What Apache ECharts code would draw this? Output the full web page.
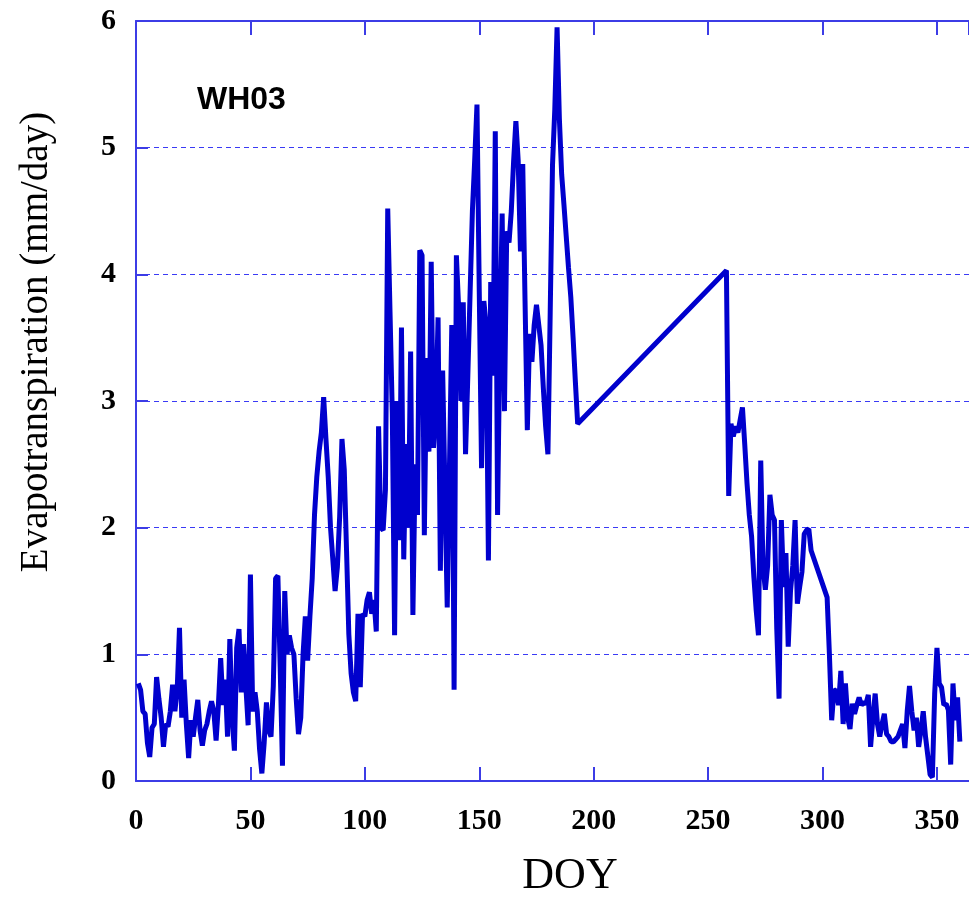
<!DOCTYPE html>
<html>
<head>
<meta charset="utf-8">
<script src="https://cdn.jsdelivr.net/npm/echarts@6/dist/echarts.min.js"></script>
<style>html,body{margin:0;padding:0;background:#fff;}#c{width:969px;height:899px;}</style>
</head>
<body>
<div id="c"></div>
<script>
const siteLabel = "WH03";
const xTitle = "DOY";
const yTitle = "Evapotranspiration (mm/day)";
const xTicks = [0, 50, 100, 150, 200, 250, 300, 350];
const yTicks = [0, 1, 2, 3, 4, 5, 6];

const doy = [
  1,2,3,4,5,6,7,8,9,10,11,12,13,14,15,16,17,18,19,20,
  21,22,23,24,25,26,27,28,29,30,31,32,33,34,35,36,37,38,39,40,
  41,42,43,44,45,46,47,48,49,50,51,52,53,54,55,56,57,58,59,60,
  61,62,63,64,65,66,67,68,69,70,71,72,73,74,75,76,77,78,79,80,
  81,82,83,84,85,86,87,88,89,90,91,92,93,94,95,96,97,98,99,100,
  101,102,103,104,105,106,107,108,109,110,111,112,113,114,115,116,117,118,119,120,
  121,122,123,124,125,126,127,128,129,130,131,132,133,134,135,136,137,138,139,140,
  141,142,143,144,145,146,147,148,149,150,151,152,153,154,155,156,157,158,159,160,
  161,162,163,164,165,166,167,168,169,170,171,172,173,174,175,176,177,178,179,180,
  181,182,183,184,185,186,187,188,189,190,191,192,193,
  258,259,260,261,262,263,264,265,266,267,268,269,270,
  271,272,273,274,275,276,277,278,279,280,281,282,283,284,285,286,287,288,289,290,
  291,292,293,294,295,302,303,304,305,306,307,308,309,310,
  311,312,313,314,315,316,317,318,319,320,321,322,323,324,325,326,327,328,329,330,
  331,332,333,334,335,336,337,338,339,340,341,342,343,344,345,346,347,348,349,350,
  351,352,353,354,355,356,357,358,359,360
];
const et = [
  0.77,0.72,0.55,0.53,0.30,0.19,0.42,0.45,0.82,0.65,0.50,0.27,0.45,0.43,0.55,0.76,0.55,0.72,1.21,0.50,
  0.80,0.45,0.18,0.48,0.35,0.50,0.64,0.40,0.28,0.40,0.45,0.55,0.63,0.55,0.32,0.60,0.97,0.60,0.80,0.35,
  1.12,0.50,0.24,1.05,1.20,0.70,1.08,0.75,0.44,1.63,0.55,0.70,0.55,0.25,0.06,0.30,0.62,0.40,0.35,0.75,
  1.60,1.62,0.90,0.12,1.50,1.00,1.15,1.05,1.00,0.65,0.37,0.50,1.00,1.30,0.95,1.30,1.60,2.10,2.40,2.60,
  2.75,3.03,2.70,2.40,2.00,1.75,1.50,1.69,2.09,2.70,2.46,1.82,1.16,0.85,0.70,0.63,1.32,0.74,1.32,1.30,
  1.43,1.49,1.32,1.43,1.18,2.80,2.00,1.98,2.30,4.52,3.70,2.90,1.15,3.00,1.90,3.58,1.75,2.66,2.00,3.39,
  1.31,2.50,2.10,4.19,4.15,1.94,3.34,2.60,4.10,2.63,2.90,3.66,1.66,3.24,2.30,1.37,2.50,3.60,0.72,4.15,
  3.73,3.00,3.78,2.58,3.20,3.86,4.50,4.90,5.34,3.86,2.47,3.79,3.60,1.74,3.94,3.20,5.13,2.10,3.50,4.48,
  2.92,4.34,4.25,4.50,4.89,5.21,4.90,4.18,4.87,3.79,2.77,3.53,3.31,3.60,3.76,3.60,3.44,3.10,2.80,2.58,
  3.70,4.86,5.30,5.95,5.23,4.79,4.55,4.30,4.05,3.82,3.50,3.15,2.82,
  4.03,2.25,2.82,2.72,2.80,2.75,2.85,2.95,2.66,2.35,2.10,1.93,1.61,
  1.35,1.15,2.53,1.69,1.51,1.70,2.26,2.10,2.06,1.20,0.65,2.06,1.53,1.80,1.06,1.50,1.70,2.06,1.40,1.53,
  1.65,1.95,1.98,1.99,1.82,1.45,1.00,0.48,0.72,0.71,0.60,0.87,0.45,0.77,
  0.50,0.41,0.61,0.53,0.60,0.66,0.60,0.62,0.61,0.68,0.27,0.50,0.69,0.45,0.35,0.45,0.53,0.37,0.35,0.31,
  0.31,0.33,0.35,0.40,0.45,0.26,0.55,0.75,0.55,0.40,0.50,0.27,0.40,0.55,0.35,0.20,0.05,0.03,0.69,1.05,
  0.77,0.74,0.60,0.61,0.56,0.13,0.77,0.48,0.66,0.31
];

const seriesData = doy.map((d, i) => [d, et[i]]);
const axisBlue = '#3c3ce6';
const gridBlue = '#3a3af5';
const serif = "'Liberation Serif','Times New Roman',serif";

const chart = echarts.init(document.getElementById('c'), null, {renderer: 'canvas'});
const xCommon = {
  type: 'value', min: xTicks[0], max: 364, interval: 50,
  axisLine: {show: true, onZero: false, lineStyle: {color: axisBlue, width: 2}},
  axisTick: {show: true, inside: true, length: 14, lineStyle: {color: axisBlue, width: 2}},
  splitLine: {show: false}
};
chart.setOption({
  animation: false,
  backgroundColor: '#ffffff',
  grid: {left: 136, top: 21, right: 0, bottom: 899 - 781, containLabel: false},
  xAxis: [
    Object.assign({}, xCommon, {
      position: 'bottom',
      axisLabel: {show: true, showMaxLabel: false, margin: 25, fontSize: 30, fontWeight: 'bold', fontFamily: serif, color: '#000',
        formatter: v => xTicks.indexOf(v) >= 0 ? String(v) : ''}
    }),
    Object.assign({}, xCommon, {position: 'top', axisLabel: {show: false}})
  ],
  yAxis: {
    type: 'value', min: yTicks[0], max: yTicks[yTicks.length - 1], interval: 1,
    axisLine: {show: true, lineStyle: {color: axisBlue, width: 2}},
    axisTick: {show: true, inside: true, length: 12, lineStyle: {color: axisBlue, width: 2}},
    axisLabel: {margin: 20, fontSize: 30, fontWeight: 'bold', fontFamily: serif, color: '#000'},
    splitLine: {show: true, lineStyle: {color: gridBlue, width: 1, type: [5, 4]}}
  },
  series: [{
    type: 'line', xAxisIndex: 0, data: seriesData, showSymbol: false, symbol: 'none',
    lineStyle: {color: '#0000cd', width: 5}, clip: true
  }],
  graphic: [
    {type: 'text', left: 197, top: 84, style: {text: siteLabel, font: "bold 32px 'Liberation Sans', Arial, sans-serif", fill: '#000'}},
    {type: 'text', x: 37, y: 342, rotation: Math.PI / 2,
      style: {text: yTitle, font: "39px " + serif, fill: '#000', align: 'center', verticalAlign: 'middle'}},
    {type: 'text', x: 570, y: 876,
      style: {text: xTitle, font: "44px " + serif, fill: '#000', align: 'center', verticalAlign: 'middle'}}
  ]
});
</script>
</body>
</html>
